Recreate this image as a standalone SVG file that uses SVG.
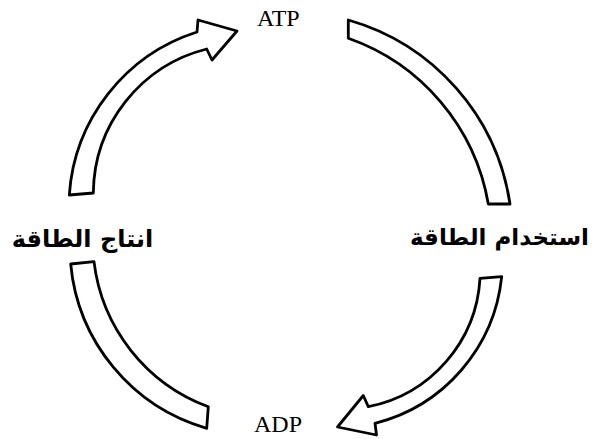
<svg xmlns="http://www.w3.org/2000/svg" width="592" height="439" viewBox="0 0 592 439">
  <style>
    .arrow { fill: #ffffff; stroke: #000000; stroke-width: 2.8; stroke-linejoin: round; }
    .lat { font-family: "Liberation Serif", "Times New Roman", serif; font-size: 24px; fill: #000; }
    .ar { font-family: "DejaVu Sans", "Noto Sans", sans-serif; font-size: 24px; font-weight: bold; fill: #000; }
  </style>
  <rect width="592" height="439" fill="#ffffff"/>
  <g id="connectors">
    <path id="arrow-production-atp" class="arrow" d="M 69.3,195 A 184 184 0 0 1 197,32 L 198,20 L 237,31 L 212,60 L 206.7,49 A 150 150 0 0 0 93.3,193 Z"/>
    <path id="arrow-atp-consumption" class="arrow" d="M 348.3,20 A 226 226 0 0 1 510,204 L 488.3,204 A 214 214 0 0 0 348.3,38.3 Z"/>
    <path id="arrow-consumption-adp" class="arrow" d="M 501.7,276.7 A 169 169 0 0 1 375,423.3 L 376.5,435 L 337.5,427 L 363.3,395.5 L 368.3,406.7 A 139 139 0 0 0 480,278.3 Z"/>
    <path id="arrow-adp-production" class="arrow" d="M 70.7,264 A 189 189 0 0 0 206.7,428.3 L 208.3,406.7 A 177 177 0 0 1 94,261.7 Z"/>
  </g>
  <g id="node-atp">
    <text class="lat" x="257" y="26">ATP</text>
  </g>
  <g id="node-adp">
    <text class="lat" x="254" y="431.5">ADP</text>
  </g>
  <g id="node-production">
    <text class="ar" x="82.5" y="247" text-anchor="middle">انتاج الطاقة</text>
  </g>
  <g id="node-consumption">
    <text class="ar" x="589" y="245" text-anchor="end" style="font-size:23px">استخدام الطاقة</text>
  </g>
</svg>
